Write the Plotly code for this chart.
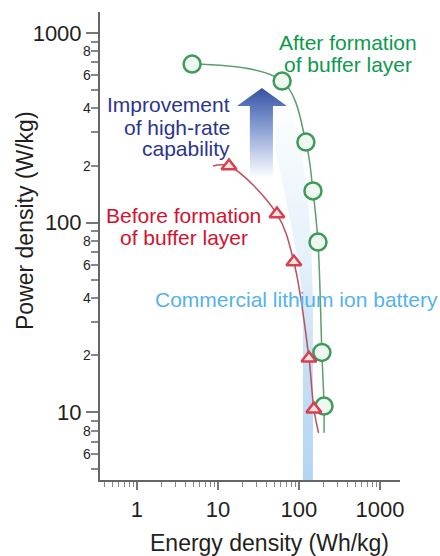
import math
import plotly.graph_objects as go

# ---- data ----
after_energy = [4.8, 62, 122, 149, 172, 192, 204]
after_power = [686, 558, 266, 147, 79, 20.7, 10.8]
after_fit_energy = [4.8, 62, 122, 149, 172, 192, 204, 204]
after_fit_power = [686, 558, 266, 147, 79, 20.7, 10.8, 7.8]

before_energy = [13.7, 53.5, 86.7, 133, 153]
before_power = [199, 111, 62, 19.3, 10.4]
before_fit_energy = [8.7, 13.7, 53.5, 86.7, 133, 153, 175]
before_fit_power = [199, 199, 111, 62, 19.3, 10.4, 7.8]

# commercial Li-ion region (outline)
liion_energy = [112, 112, 92, 69, 52, 50.5, 67, 103, 126, 141, 149, 149]
liion_power = [4.4, 39, 72, 131, 241, 443, 500, 272, 148, 81, 39, 4.4]

# improvement arrow outline
arrow_energy = [34.9, 71.1, 47.8, 47.8, 24.8, 24.8, 17.2, 34.9]
arrow_power = [513, 412, 412, 172, 172, 412, 412, 513]

x_tick_vals = [1, 10, 100, 1000]
x_tick_text = ["1", "10", "100", "1000"]
y_tick_vals = [10, 100, 1000]
y_tick_text = ["10", "100", "1000"]
y_small_labels = [6, 8, 20, 40, 60, 80, 200, 400, 600, 800]
y_small_text = ["6", "8", "2", "4", "6", "8", "2", "4", "6", "8"]

FONT = "Arial, Liberation Sans, sans-serif"
W, H = 440, 556
L, R, T, B = 100, 40, 12, 76


def px(x):
    return (x - L) / (W - L - R)


def py(y):
    return (H - B - y) / (H - T - B)


fig = go.Figure()

fig.add_trace(go.Scatter(
    x=liion_energy, y=liion_power, mode="lines", fill="toself",
    line=dict(width=0, color="rgba(0,0,0,0)"),
    fillgradient=dict(type="vertical",
                      colorscale=[[0, "#b3d5f2"], [0.3, "#c6dff5"], [0.55, "#e4f0fa"], [1, "#ffffff"]]),
    hoverinfo="skip", showlegend=False))

fig.add_trace(go.Scatter(
    x=arrow_energy, y=arrow_power, mode="lines", fill="toself",
    line=dict(width=0, color="rgba(0,0,0,0)"),
    fillgradient=dict(type="vertical",
                      colorscale=[[0, "#ffffff"], [0.55, "#8aa0d4"], [1, "#3452a2"]]),
    hoverinfo="skip", showlegend=False))

fig.add_trace(go.Scatter(
    x=after_fit_energy, y=after_fit_power, mode="lines",
    line=dict(color="#5b9f6c", width=1.5, shape="spline", smoothing=1.0),
    hoverinfo="skip", showlegend=False))
fig.add_trace(go.Scatter(
    x=before_fit_energy, y=before_fit_power, mode="lines",
    line=dict(color="#b9505c", width=1.5, shape="spline", smoothing=1.0),
    hoverinfo="skip", showlegend=False))

fig.add_trace(go.Scatter(
    x=after_energy, y=after_power, mode="markers",
    marker=dict(symbol="circle", size=17, color="#eef8f0",
                line=dict(color="#3c9a5a", width=2.5)),
    showlegend=False))
fig.add_trace(go.Scatter(
    x=before_energy, y=before_power, mode="markers",
    marker=dict(symbol="triangle-up", size=13, color="#fbe3e3",
                line=dict(color="#d6404f", width=2.5)),
    showlegend=False))

annotations = []
for v, t in zip(y_small_labels, y_small_text):
    annotations.append(dict(x=0, xref="paper", y=math.log10(v), yref="y",
                            text=t, showarrow=False, xanchor="right",
                            xshift=-7, font=dict(family=FONT, size=14, color="#231f20")))


def label(text, x, y, color, anchor="center", size=21):
    annotations.append(dict(x=px(x), xref="paper", y=py(y), yref="paper",
                            xanchor=anchor, yanchor="middle", text=text,
                            showarrow=False,
                            font=dict(family=FONT, size=size, color=color)))


GREEN, NAVY, RED, LBLUE = "#0b9a4c", "#2b3590", "#d2122e", "#55b2ea"
label("After formation", 347.5, 42, GREEN)
label("of buffer layer", 347.5, 64, GREEN)
label("Improvement", 232, 105, NAVY, "right")
label("of high-rate", 232, 127, NAVY, "right")
label("capability", 232, 149, NAVY, "right")
label("Before formation", 183.5, 215, RED)
label("of buffer layer", 183.5, 238, RED)
label("Commercial lithium ion battery", 153, 299, LBLUE, "left")
label("Energy density (Wh/kg)", 269, 543, "#231f20", size=23)
annotations.append(dict(x=px(25), xref="paper", y=py(221), yref="paper",
                        xanchor="center", yanchor="middle", textangle=-90,
                        text="Power density (W/kg)", showarrow=False,
                        font=dict(family=FONT, size=23, color="#231f20")))

minor_y = [5, 6, 7, 8, 9, 20, 30, 40, 50, 60, 70, 80, 90,
           200, 300, 400, 500, 600, 700, 800, 900]
minor_x = [0.4, 0.5, 0.6, 0.7, 0.8, 0.9, 2, 3, 4, 5, 6, 7, 8, 9,
           20, 30, 40, 50, 60, 70, 80, 90, 200, 300, 400, 500, 600, 700, 800, 900]

fig.update_layout(
    width=W, height=H,
    margin=dict(l=L, r=R, t=T, b=B),
    paper_bgcolor="white", plot_bgcolor="white",
    annotations=annotations,
    xaxis=dict(type="log", range=[math.log10(0.35), math.log10(1770)], automargin=False,
               showgrid=False, zeroline=False, showline=True, linecolor="#666666",
               linewidth=2, ticks="outside", ticklen=8, tickwidth=1.5, tickcolor="#777777",
               tickvals=x_tick_vals, ticktext=x_tick_text,
               tickfont=dict(family=FONT, size=22, color="#231f20"),
               ticklabelstandoff=1,
               minor=dict(tickvals=minor_x, ticks="outside", ticklen=5,
                          tickcolor="#888888", tickwidth=1.2, showgrid=False)),
    yaxis=dict(type="log", range=[math.log10(4.4), math.log10(1290)], automargin=False,
               showgrid=False, zeroline=False, showline=True, linecolor="#666666",
               linewidth=2, ticks="outside", ticklen=12, tickwidth=1.5, tickcolor="#777777",
               tickvals=y_tick_vals, ticktext=y_tick_text,
               tickfont=dict(family=FONT, size=22, color="#231f20"),
               ticklabelstandoff=0,
               minor=dict(tickvals=minor_y, ticks="outside", ticklen=7,
                          tickcolor="#888888", tickwidth=1.5, showgrid=False)),
)

fig.write_html("out.html", config={"displayModeBar": False},
               post_script="document.body.style.margin='0';document.body.style.overflow='hidden';")
